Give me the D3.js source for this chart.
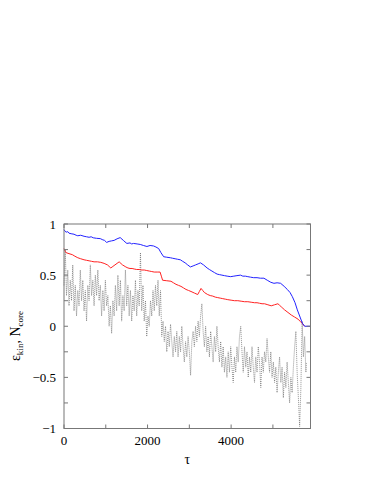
<!DOCTYPE html>
<html>
<head>
<meta charset="utf-8">
<script src="https://cdn.jsdelivr.net/npm/d3@7"></script>
<style>
body { margin: 0; background: #fff; }
text { font-family: "Liberation Serif", "DejaVu Serif", serif; fill: #000; }
.frame { fill: none; stroke: #777; stroke-width: 1; }
.tick-line { stroke: #777; stroke-width: 1; }
</style>
</head>
<body>
<svg width="374" height="484"></svg>
<script>
// tau values and series
var blueData = [
  [0,0.945],[25,0.93],[50,0.92],[90,0.925],[120,0.91],[170,0.905],[240,0.90],[290,0.89],[330,0.885],
  [400,0.89],[480,0.88],[540,0.875],[600,0.87],[650,0.875],[700,0.865],[780,0.86],[868,0.857],
  [930,0.845],[970,0.84],[1020,0.82],[1080,0.83],[1140,0.835],[1200,0.84],[1270,0.855],[1345,0.867],
  [1420,0.84],[1460,0.825],[1505,0.81],[1580,0.815],[1620,0.805],[1665,0.81],[1750,0.805],[1825,0.80],
  [1900,0.79],[1985,0.78],[2060,0.79],[2145,0.785],[2200,0.775],[2265,0.76],[2320,0.72],[2385,0.68],
  [2460,0.675],[2545,0.67],[2600,0.665],[2660,0.66],[2720,0.655],[2785,0.65],[2840,0.635],[2900,0.62],
  [2960,0.60],[3025,0.58],[3090,0.59],[3150,0.60],[3210,0.61],[3265,0.62],[3340,0.60],[3425,0.57],
  [3480,0.555],[3540,0.54],[3600,0.525],[3665,0.51],[3720,0.505],[3780,0.50],[3840,0.495],[3905,0.49],
  [3990,0.485],[4065,0.49],[4140,0.495],[4225,0.50],[4280,0.49],[4340,0.49],[4400,0.485],[4465,0.48],
  [4540,0.475],[4620,0.475],[4700,0.47],[4785,0.47],[4865,0.45],[4950,0.43],[5025,0.42],[5100,0.425],
  [5185,0.42],[5270,0.39],[5345,0.36],[5410,0.33],[5465,0.29],[5530,0.23],[5585,0.16],[5650,0.09],
  [5705,0.03],[5760,0.0],[5900,0.0]
];

var redData = [
  [0,0.76],[25,0.735],[50,0.72],[120,0.71],[200,0.70],[260,0.685],[330,0.67],[400,0.66],[480,0.65],
  [540,0.645],[600,0.64],[660,0.635],[720,0.63],[800,0.63],[880,0.625],[960,0.615],[1040,0.60],
  [1080,0.585],[1120,0.57],[1170,0.585],[1220,0.60],[1270,0.615],[1320,0.63],[1400,0.60],[1480,0.58],
  [1530,0.57],[1580,0.565],[1630,0.565],[1680,0.56],[1740,0.555],[1800,0.555],[1860,0.55],[1920,0.55],
  [1980,0.545],[2040,0.54],[2100,0.535],[2160,0.53],[2230,0.53],[2300,0.53],[2330,0.49],[2360,0.45],
  [2460,0.445],[2560,0.44],[2620,0.425],[2680,0.41],[2740,0.40],[2800,0.39],[2860,0.375],[2920,0.36],
  [2980,0.35],[3040,0.34],[3120,0.325],[3200,0.31],[3240,0.34],[3280,0.37],[3320,0.35],[3360,0.33],
  [3440,0.31],[3500,0.30],[3560,0.295],[3620,0.285],[3680,0.28],[3740,0.275],[3800,0.27],[3860,0.265],
  [3920,0.26],[4000,0.255],[4080,0.25],[4160,0.25],[4240,0.245],[4320,0.24],[4400,0.24],[4480,0.235],
  [4560,0.23],[4620,0.23],[4680,0.225],[4740,0.22],[4800,0.22],[4880,0.21],[4960,0.20],[5040,0.21],
  [5120,0.22],[5160,0.205],[5200,0.19],[5240,0.175],[5280,0.16],[5360,0.135],[5440,0.11],[5520,0.09],
  [5600,0.07],[5660,0.045],[5720,0.02],[5760,0.0]
];

var blackData = [
  [0,0.40],[30,0.75],[60,0.30],[90,0.55],[120,0.20],[150,0.45],[180,0.25],[210,0.60],[240,0.15],
  [270,0.40],[300,0.10],[330,0.35],[360,0.20],[390,0.55],[420,0.25],[450,0.45],[480,0.15],[510,0.35],
  [540,0.05],[570,0.40],[600,0.25],[630,0.60],[660,0.30],[690,0.45],[720,0.20],[750,0.50],[780,0.30],
  [810,0.55],[840,0.25],[870,0.40],[900,0.10],[930,0.35],[960,0.15],[990,0.45],[1020,0.20],[1050,0.30],
  [1080,0.00],[1110,0.20],[1140,-0.07],[1170,0.25],[1200,0.10],[1230,0.40],[1260,0.15],[1290,0.50],
  [1320,0.20],[1350,0.45],[1380,0.05],[1410,0.30],[1440,0.15],[1470,0.55],[1500,0.20],[1530,0.40],
  [1560,0.10],[1590,0.35],[1620,0.05],[1650,0.30],[1680,0.15],[1710,0.45],[1740,0.10],[1770,0.35],
  [1800,0.20],[1830,0.72],[1860,0.15],[1890,0.40],[1920,0.05],[1950,0.25],[1980,-0.10],[2010,0.10],
  [2040,0.00],[2070,0.25],[2100,0.10],[2130,0.35],[2160,0.15],[2190,0.40],[2220,0.20],[2250,0.45],
  [2280,0.10],[2310,0.35],[2340,-0.10],[2370,0.05],[2400,-0.15],[2430,0.00],[2460,-0.25],[2490,-0.05],
  [2520,-0.20],[2550,0.02],[2580,-0.15],[2610,-0.30],[2640,-0.10],[2670,-0.25],[2700,-0.05],[2730,-0.30],
  [2760,-0.10],[2790,-0.25],[2820,0.00],[2850,-0.20],[2880,-0.35],[2910,-0.15],[2940,-0.30],[2970,-0.10],
  [3000,-0.25],[3030,-0.48],[3060,-0.15],[3090,-0.05],[3120,-0.20],[3150,0.00],[3180,-0.15],[3210,0.05],
  [3240,-0.10],[3270,0.10],[3300,0.22],[3330,-0.05],[3360,-0.20],[3390,0.00],[3420,-0.25],[3450,-0.10],
  [3480,-0.30],[3510,-0.05],[3540,-0.20],[3570,-0.35],[3600,-0.10],[3630,-0.25],[3660,0.00],[3690,-0.20],
  [3720,-0.35],[3750,-0.15],[3780,-0.40],[3810,-0.20],[3840,-0.45],[3870,-0.30],[3900,-0.50],[3930,-0.25],
  [3960,-0.45],[3990,-0.20],[4020,-0.40],[4050,-0.55],[4080,-0.30],[4110,-0.45],[4140,-0.20],[4170,-0.35],
  [4200,-0.10],[4230,0.00],[4260,-0.25],[4290,-0.45],[4320,-0.20],[4350,-0.40],[4380,-0.25],[4410,-0.50],
  [4440,-0.30],[4470,-0.45],[4500,-0.20],[4530,-0.40],[4560,-0.55],[4590,-0.30],[4620,-0.45],[4650,-0.20],
  [4680,-0.35],[4710,-0.60],[4740,-0.30],[4770,-0.45],[4800,-0.25],[4830,-0.35],[4860,-0.12],[4890,-0.30],
  [4920,-0.45],[4950,-0.25],[4980,-0.50],[5010,-0.35],[5040,-0.55],[5070,-0.40],[5100,-0.65],[5130,-0.45],
  [5160,-0.30],[5190,-0.55],[5220,-0.40],[5250,-0.70],[5280,-0.45],[5310,-0.60],[5340,-0.35],[5370,-0.55],
  [5400,-0.75],[5430,-0.50],[5460,-0.65],[5490,-0.40],[5520,-0.20],[5550,-0.05],[5580,-0.45],[5610,-0.70],
  [5640,-0.98],[5670,-0.60],[5700,0.05],[5730,-0.30],[5760,-0.10],[5790,-0.45],[5800,-0.35]
];

var xTicks = [0, 1000, 2000, 3000, 4000, 5000];
var xLabels = [0, 2000, 4000];
var yTicks = [-1, -0.75, -0.5, -0.25, 0, 0.25, 0.5, 0.75, 1];
var yLabels = [-1, -0.5, 0, 0.5, 1];

var svg = d3.select("svg"),
    margin = {top: 224, right: 63.5, bottom: 55.5, left: 64},
    width = +svg.attr("width") - margin.left - margin.right,
    height = +svg.attr("height") - margin.top - margin.bottom,
    g = svg.append("g").attr("transform", "translate(" + margin.left + "," + margin.top + ")");

var x = d3.scaleLinear().domain([0, 5900]).range([0, width]),
    y = d3.scaleLinear().domain([-1, 1]).range([height, 0]);

var line = d3.line()
    .x(function(d) { return x(d[0]); })
    .y(function(d) { return y(d[1]); });

// series
g.append("path")
    .attr("d", line(blackData))
    .attr("fill", "none")
    .attr("stroke", "#666")
    .attr("stroke-width", 0.7)
    .attr("stroke-dasharray", "1,1");

g.append("path")
    .attr("d", line(redData))
    .attr("fill", "none")
    .attr("stroke", "#f22")
    .attr("stroke-width", 1);

g.append("path")
    .attr("d", line(blueData))
    .attr("fill", "none")
    .attr("stroke", "#22f")
    .attr("stroke-width", 1);

// ticks on all four sides, pointing in
var tl = 4;
xTicks.forEach(function(t) {
  g.append("line").attr("class", "tick-line")
    .attr("x1", x(t)).attr("x2", x(t)).attr("y1", height).attr("y2", height - tl);
  g.append("line").attr("class", "tick-line")
    .attr("x1", x(t)).attr("x2", x(t)).attr("y1", 0).attr("y2", tl);
});
yTicks.forEach(function(t) {
  g.append("line").attr("class", "tick-line")
    .attr("x1", 0).attr("x2", tl).attr("y1", y(t)).attr("y2", y(t));
  g.append("line").attr("class", "tick-line")
    .attr("x1", width).attr("x2", width - tl).attr("y1", y(t)).attr("y2", y(t));
});

g.append("rect").attr("class", "frame")
    .attr("x", 0).attr("y", 0).attr("width", width).attr("height", height);

// tick labels
var fmtY = function(v) { return v < 0 ? "\u2212" + Math.abs(v) : String(v); };
g.selectAll(".ylab").data(yLabels).enter().append("text")
    .attr("x", -8)
    .attr("y", function(d) { return y(d); })
    .attr("dy", "0.35em")
    .attr("text-anchor", "end")
    .style("font-size", "13px")
    .text(fmtY);

g.selectAll(".xlab").data(xLabels).enter().append("text")
    .attr("x", function(d) { return x(d); })
    .attr("y", height + 16)
    .attr("text-anchor", "middle")
    .style("font-size", "13px")
    .text(function(d) { return d; });

// axis titles
svg.append("text")
    .attr("x", 64 + x(2950))
    .attr("y", 464)
    .attr("text-anchor", "middle")
    .style("font-size", "14px")
    .text("\u03c4");

var yt = svg.append("text")
    .attr("transform", "translate(20,336) rotate(-90)")
    .attr("text-anchor", "middle")
    .style("font-size", "14px");
yt.append("tspan").text("\u03b5");
yt.append("tspan").attr("dy", 3).style("font-size", "9px").text("kin");
yt.append("tspan").attr("dy", -3).text(", N");
yt.append("tspan").attr("dy", 3).style("font-size", "9px").text("core");
</script>
</body>
</html>
